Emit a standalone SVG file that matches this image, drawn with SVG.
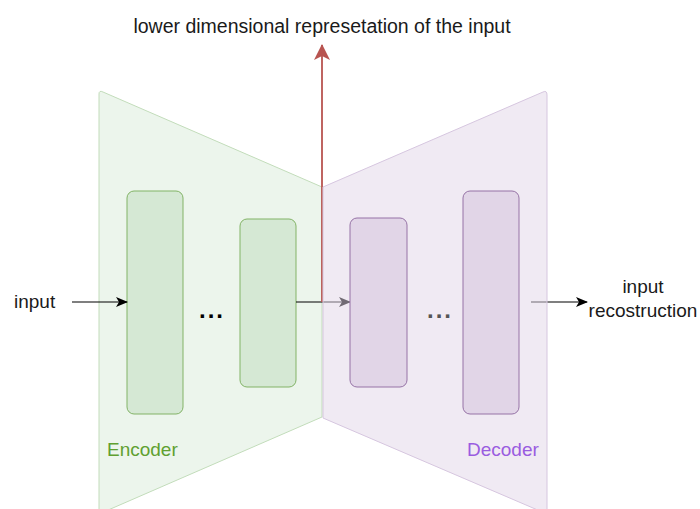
<svg xmlns="http://www.w3.org/2000/svg" width="700" height="509" viewBox="0 0 700 509">
<defs>
<style>
text{font-family:"Liberation Sans",Arial,sans-serif;font-size:19px;fill:#1a1a1a}
.enc{fill:#d5e8d4;fill-opacity:0.45;stroke:#c2dcba;stroke-width:1;stroke-linejoin:round}
.dec{fill:#e1d5e7;fill-opacity:0.5;stroke:#d6c6df;stroke-width:1;stroke-linejoin:round}
.erect{fill:#d5e8d4;stroke:#82b366;stroke-width:1}
.drect{fill:#e1d5e7;stroke:#9673a6;stroke-width:1}
.edge{stroke:#000;stroke-width:1.2;fill:none}
.dots{font-weight:bold;font-size:24px;letter-spacing:2px}
</style>
<marker id="ah" viewBox="0 0 12 10" refX="11" refY="5" markerWidth="12" markerHeight="10" markerUnits="userSpaceOnUse" orient="auto">
<path d="M0,0 L12,5 L0,10 L3,5 Z" fill="#000"/>
</marker>
<marker id="ahr" viewBox="0 0 16 18" refX="15" refY="9" markerWidth="16" markerHeight="18" markerUnits="userSpaceOnUse" orient="auto">
<path d="M0,1 L16,9 L0,17 L4,9 Z" fill="#b85450"/>
</marker>
</defs>
<rect width="700" height="509" fill="#fff"/>
<g id="encoder">
<path class="enc" d="M99,94 Q99,90 103,92 L322,187 L322,417 L99,514 Z"/>
<rect class="erect" x="127" y="191" width="56" height="223" rx="7"/>
<rect class="erect" x="240" y="219" width="56" height="168" rx="7"/>
<text class="dots" x="212" y="318" text-anchor="middle" style="fill:#000">...</text>
<text x="107" y="456" style="fill:#60a030">Encoder</text>
</g>
<g id="connectors">
<line class="edge" x1="72" y1="302" x2="127" y2="302" marker-end="url(#ah)"/>
<line class="edge" x1="296" y1="302" x2="350" y2="302" marker-end="url(#ah)"/>
<line class="edge" x1="531" y1="302" x2="587" y2="302" marker-end="url(#ah)"/>
<line x1="322" y1="302" x2="322" y2="45" stroke="#b85450" stroke-width="1.8" marker-end="url(#ahr)"/>
</g>
<g id="decoder">
<path class="dec" d="M323,187 L543,92 Q547,90 547,95 L547,514 L323,418 Z"/>
<rect class="drect" x="350" y="218" width="57" height="169" rx="7"/>
<rect class="drect" x="463" y="191" width="56" height="223" rx="7"/>
<text class="dots" x="440" y="318" text-anchor="middle" style="fill:#555">...</text>
<text x="467" y="456" style="fill:#9a5ce0">Decoder</text>
</g>
<g id="labels">
<text x="322" y="33" text-anchor="middle" style="font-size:19.5px">lower dimensional represetation of the input</text>
<text x="14" y="308">input</text>
<text x="643" y="293" text-anchor="middle">input</text>
<text x="643" y="317" text-anchor="middle">recostruction</text>
</g>
</svg>
